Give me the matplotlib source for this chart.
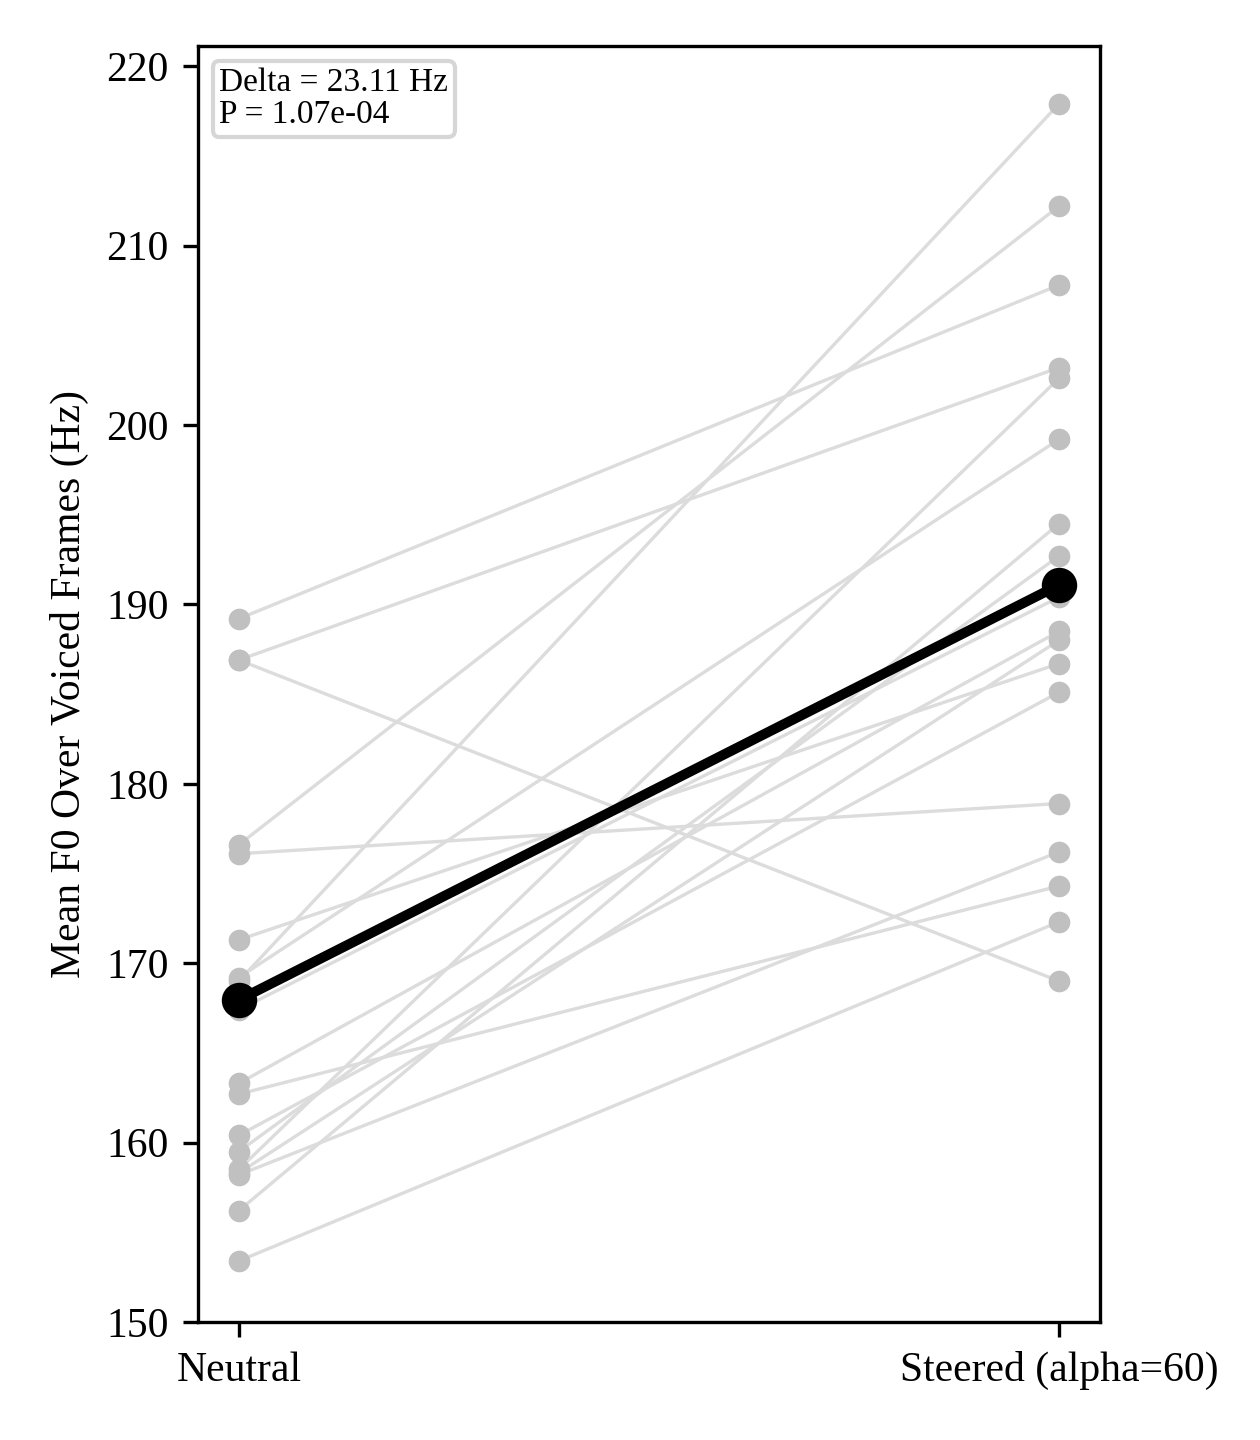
import matplotlib
matplotlib.use("Agg")
import matplotlib.pyplot as plt
from matplotlib.lines import Line2D
import numpy as np

plt.rcParams['font.family'] = ['Liberation Serif', 'DejaVu Serif']

conditions = ["Neutral", "Steered (alpha=60)"]

# per-item mean F0 (Hz)
neutral = [189.2, 186.9, 186.9, 176.6, 176.1, 171.3, 169.0, 169.2, 158.5,
           158.2, 162.7, 153.4, 156.2, 163.3, 160.4, 159.5, 167.4, 158.3]
steered = [207.8, 203.2, 169.0, 212.2, 178.9, 186.7, 217.9, 199.2, 202.6,
           176.2, 174.3, 172.3, 194.5, 188.5, 185.1, 192.7, 190.4, 188.0]

delta_txt = "Delta = 23.11 Hz"
p_txt = "P = 1.07e-04"

fig = plt.figure(figsize=(4.2, 4.8), dpi=300)
ax = fig.add_axes([0.157, 0.082, 0.716, 0.886])

x = [0, 1]
for n, s in zip(neutral, steered):
    ax.plot(x, [n, s], color='#dcdcdc', lw=0.8, zorder=1)
    ax.plot(x, [n, s], color='#c0c0c0', linestyle='None', marker='o',
            markersize=5.2, markeredgewidth=0, zorder=2)

ax.plot(x, [np.mean(neutral), np.mean(steered)], color='black', lw=2.4,
        marker='o', markersize=7.5, zorder=3)

ax.set_xticks(x)
ax.set_xticklabels(conditions, fontsize=10)
ax.tick_params(axis='y', labelsize=10)
ax.set_ylabel("Mean F0 Over Voiced Frames (Hz)", fontsize=10)
ax.set_ylim(bottom=150)

handles = [Line2D([], [], linestyle='None', label=delta_txt),
           Line2D([], [], linestyle='None', label=p_txt)]
ax.legend(handles=handles, loc='upper left', fontsize=8, handlelength=0,
          handletextpad=0, labelspacing=0.05, borderpad=0.2,
          borderaxespad=0.45)

plt.savefig("out.png", dpi=300)
